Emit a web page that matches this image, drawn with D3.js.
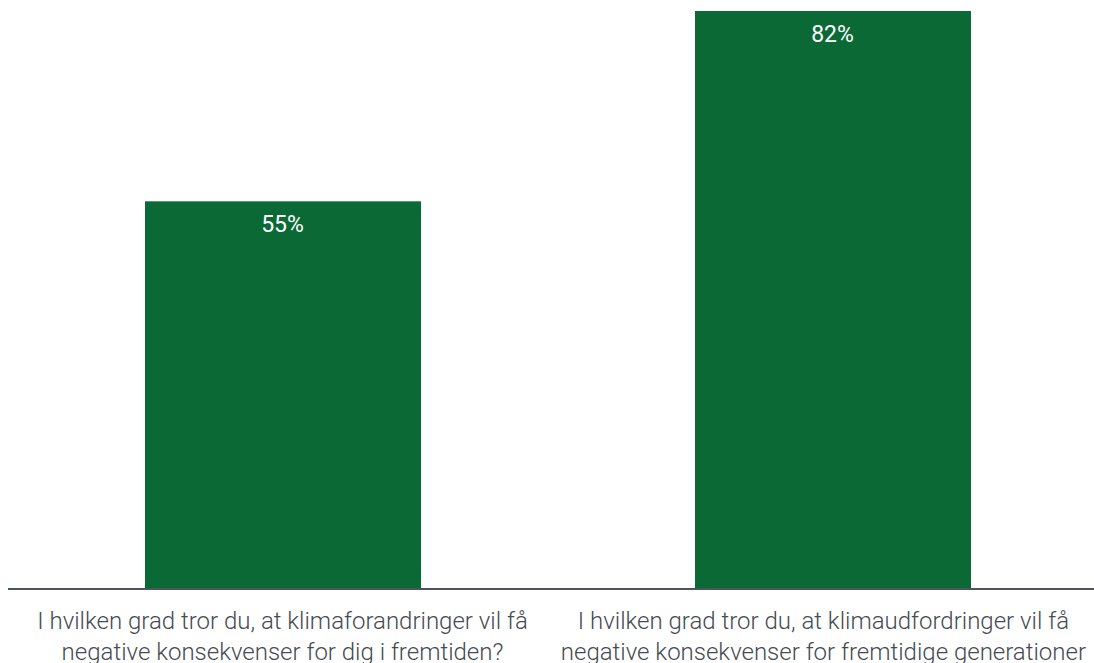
<!DOCTYPE html>
<html>
<head>
<meta charset="utf-8">
<script src="https://cdn.jsdelivr.net/npm/d3@7"></script>
<style>
  body { margin: 0; background: #fff; }
  svg { display: block; }
</style>
</head>
<body>
<svg id="chart" width="1094" height="663"></svg>
<script>
var questions = [
    ["I hvilken grad tror du, at klimaforandringer vil få", "negative konsekvenser for dig i fremtiden?"],
    ["I hvilken grad tror du, at klimaudfordringer vil få", "negative konsekvenser for fremtidige generationer"]
];
var values = [55, 82];
var valueLabels = ["55%", "82%"];

var width = 1094, height = 663;
var margin = {top: 11, left: 8, right: 8, baseline: 589};

var svg = d3.select("#chart");

var x = d3.scaleBand()
    .domain(d3.range(values.length))
    .range([7.5, 1107.5])
    .paddingInner(0.5)
    .paddingOuter(0.25);

var y = d3.scaleLinear()
    .domain([0, 82])
    .range([margin.baseline, margin.top]);

svg.selectAll("rect.bar")
    .data(values)
    .enter().append("rect")
    .attr("class", "bar")
    .attr("x", function(d, i) { return x(i); })
    .attr("y", function(d) { return y(d); })
    .attr("width", x.bandwidth() + 1)
    .attr("height", function(d) { return margin.baseline - y(d); })
    .attr("fill", "#0a6935");

svg.selectAll("text.val")
    .data(values)
    .enter().append("text")
    .attr("class", "val")
    .attr("x", function(d, i) { return x(i) + x.bandwidth() / 2; })
    .attr("y", function(d) { return y(d) + 31; })
    .attr("text-anchor", "middle")
    .attr("font-family", "Roboto")
    .attr("font-size", "23px")
    .attr("fill", "#ffffff")
    .text(function(d, i) { return valueLabels[i]; });

// baseline
svg.append("line")
    .attr("x1", margin.left)
    .attr("x2", width)
    .attr("y1", margin.baseline)
    .attr("y2", margin.baseline)
    .attr("stroke", "#4b555f")
    .attr("stroke-width", 2);

var lbl = svg.selectAll("text.cat")
    .data(questions)
    .enter().append("text")
    .attr("class", "cat")
    .attr("text-anchor", "middle")
    .attr("font-family", "Roboto")
    .attr("font-weight", 300)
    .attr("font-size", "24px")
    .attr("fill", "#454b52");

lbl.each(function(q, i) {
    var t = d3.select(this);
    var spans = q.map(function(line, j) {
        return t.append("tspan")
            .attr("y", 629 + j * 31)
            .text(line);
    });
    // keep the label block inside the chart, like the original does
    var maxLen = d3.max(spans, function(s) { return s.node().getComputedTextLength(); });
    var cx = x(i) + x.bandwidth() / 2;
    cx = Math.min(cx, width - margin.right - maxLen / 2);
    cx = Math.max(cx, margin.left + maxLen / 2);
    spans.forEach(function(s) { s.attr("x", cx); });
});
</script>
</body>
</html>
